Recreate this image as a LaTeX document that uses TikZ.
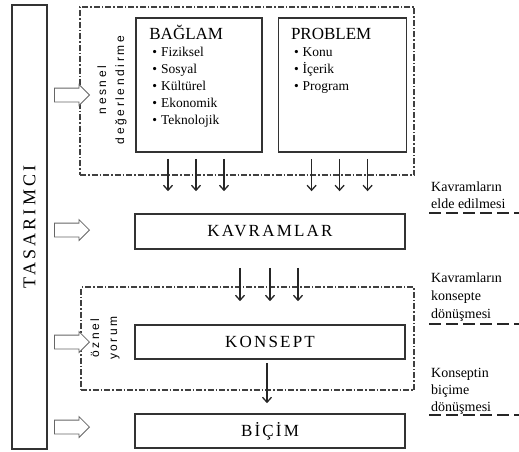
\documentclass[tikz,border=0pt]{standalone}
\usepackage{fontspec}
\setmainfont{Liberation Serif}
\newfontfamily\widefont[LetterSpace=13]{Liberation Serif}
\newfontfamily\tallfont[LetterSpace=18]{Liberation Serif}
\newfontfamily\widesans[LetterSpace=22]{Liberation Sans}
\usetikzlibrary{shapes.arrows, arrows, arrows.meta, positioning}

\begin{document}
\begin{tikzpicture}[x=1pt, y=-1pt, >={Straight Barb[length=5pt, width=9pt]},
        frame/.style={rectangle, draw=black!80, line width=1.6pt, inner sep=0pt},
        group/.style={rectangle, draw=black!75, line width=1.1pt, dash pattern=on 6pt off 2pt on 1.5pt off 2pt, inner sep=0pt},
        stage/.style={frame, minimum width=270pt, font=\fontsize{17}{19}\selectfont\widefont},
        listtxt/.style={anchor=north west, inner sep=0pt, align=left, font=\fontsize{13.5}{17}\selectfont},
        side/.style={rotate=90, inner sep=0pt, align=center, font=\fontsize{12}{18}\selectfont\widesans},
        note/.style={anchor=north west, inner sep=0pt, align=left, font=\fontsize{14}{17}\selectfont},
        hollow/.style={single arrow, draw=black!60, fill=white, line width=0.8pt, minimum height=35pt, minimum width=20pt, single arrow head extend=3.5pt, inner sep=6.5pt, anchor=tip},
        flow/.style={->, line width=1.3pt, draw=black!85},
        rule/.style={line width=2.2pt, draw=black!85, dash pattern=on 12pt off 5pt}
    ]
        \useasboundingbox (0,0) rectangle (519,452);

        % Nodes
        \node [frame, rotate=90, minimum width=444pt, minimum height=35pt, font=\fontsize{18}{20}\selectfont\tallfont] (tas) at (29.5,227) {TASARIMCI};
        \node [group, minimum width=334pt, minimum height=168pt] (obj) at (247,91) {};
        \node [frame, minimum width=126pt, minimum height=134pt] (bag) at (199,85) {};
        \node [frame, minimum width=128pt, minimum height=134pt, right=15pt of bag] (prob) {};
        \node [listtxt] (bagtxt) at ([shift={(14,6)}]bag.north west) {\rule{0pt}{16pt}{\fontsize{17}{19}\selectfont BAĞLAM}\\
            \hspace{3pt}\textbullet\hspace{4pt}Fiziksel\\
            \hspace{3pt}\textbullet\hspace{4pt}Sosyal\\
            \hspace{3pt}\textbullet\hspace{4pt}Kültürel\\
            \hspace{3pt}\textbullet\hspace{4pt}Ekonomik\\
            \hspace{3pt}\textbullet\hspace{4pt}Teknolojik};
        \node [listtxt] (probtxt) at ([shift={(13,6)}]prob.north west) {\rule{0pt}{16pt}{\fontsize{17}{19}\selectfont PROBLEM}\\
            \hspace{3pt}\textbullet\hspace{4pt}Konu\\
            \hspace{3pt}\textbullet\hspace{4pt}İçerik\\
            \hspace{3pt}\textbullet\hspace{4pt}Program};
        \node [side] (nes) at (112,90) {nesnel\\değerlendirme};

        \node [stage, minimum height=35pt] (kav) at (270,231.5) {KAVRAMLAR};
        \node [group, minimum width=333pt, minimum height=103pt] (subj) at (247.5,338.5) {};
        \node [stage, minimum height=34pt] (kon) at (270,342) {KONSEPT};
        \node [side] (ozn) at (105,338) {öznel\\yorum};
        \node [stage, minimum height=34pt] (bic) at (270,431) {BİÇİM};

        \node [hollow] (h1) at (90,95) {};
        \node [hollow] (h2) at (90,230) {};
        \node [hollow] (h3) at (90,342) {};
        \node [hollow] (h4) at (90,427) {};

        \node [note] (n1) at (431,181.5) {Kavramların\\elde edilmesi};
        \node [note] (n2) at (431,272.5) {Kavramların\\[1pt]konsepte\\[1pt]dönüşmesi};
        \node [note] (n3) at (431,368.5) {Konseptin\\biçime\\dönüşmesi};
        \draw [rule] (429,213) -- (519,213);
        \draw [rule] (429,324) -- (519,324);
        \draw [rule] (429,415) -- (519,415);

        % Connectors
        \foreach \dx in {-31,-3,25} {
            \draw [flow, shorten <=6pt, shorten >=22pt] ([xshift=\dx pt]bag.south) -- ([xshift=\dx pt]bag.south |- kav.north);
            \draw [flow, shorten <=6pt, shorten >=22pt] ([xshift=\dx pt]prob.south) -- ([xshift=\dx pt]prob.south |- kav.north);
        }
        \foreach \dx in {-30,0,28}
            \draw [flow, shorten <=18pt, shorten >=23pt] ([xshift=\dx pt]kav.south) -- ([xshift=\dx pt]kav.south |- kon.north);
        \draw [flow, shorten <=3pt, shorten >=10pt] ([xshift=-3pt]kon.south) -- ([xshift=-3pt]kon.south |- bic.north);
    \end{tikzpicture}
\end{document}
